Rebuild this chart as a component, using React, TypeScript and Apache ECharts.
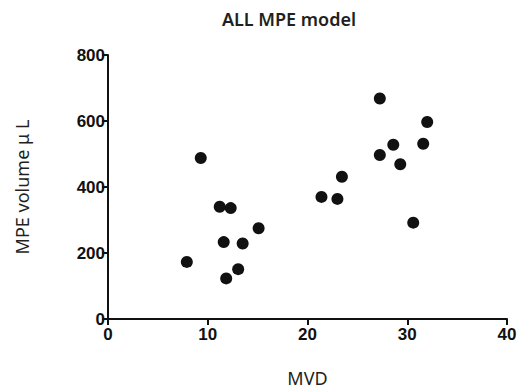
import React, { useEffect, useRef } from "react";
import * as echarts from "echarts";

const mvd = [9.3, 11.2, 12.3, 15.1, 11.6, 13.5, 7.9, 13.05, 11.85, 27.25, 32.0, 28.6, 31.6, 27.25, 29.3, 23.45, 21.4, 23.0, 30.6];
const volume = [488, 340, 336, 275, 233, 229, 173, 151, 123, 668, 597, 528, 531, 497, 469, 431, 370, 364, 292];
const titleText = "ALL MPE model";
const xName = "MVD";
const yName = "MPE volume μ L";

export default function App() {
  const ref = useRef<HTMLDivElement>(null);
  useEffect(() => {
    if (!ref.current) return;
    const chart = echarts.init(ref.current, undefined, { renderer: "svg" });
    const data = mvd.map((x, i) => [x, volume[i]]);
    const axisLabelStyle = {
      color: "#111",
      fontFamily: "Liberation Sans, Arial, sans-serif",
      fontWeight: "bold" as const,
      fontSize: 17,
    };
    chart.setOption({
      animation: false,
      backgroundColor: "#fff",
      title: {
        text: titleText,
        left: 284,
        top: 5,
        textAlign: "center",
        textStyle: { fontFamily: "Noto Sans, sans-serif", fontSize: 18, fontWeight: 600, color: "#231f20" },
      },
      grid: { left: 108, right: 18, top: 55, bottom: 72 },
      xAxis: {
        type: "value",
        min: 0,
        max: 40,
        interval: 10,
        name: xName,
        nameLocation: "middle",
        nameGap: 50,
        nameTextStyle: { fontFamily: "Noto Sans, sans-serif", fontSize: 18, color: "#231f20" },
        axisLine: { show: true, onZero: false, lineStyle: { color: "#111", width: 2 } },
        axisTick: { show: true, length: 6, lineStyle: { color: "#111", width: 2 } },
        axisLabel: { ...axisLabelStyle, margin: 7 },
        splitLine: { show: false },
      },
      yAxis: {
        type: "value",
        min: 0,
        max: 800,
        interval: 200,
        name: yName,
        nameLocation: "middle",
        nameRotate: 90,
        nameGap: 77,
        nameTextStyle: { fontFamily: "Noto Sans, sans-serif", fontSize: 18, color: "#231f20" },
        axisLine: { show: true, onZero: false, lineStyle: { color: "#111", width: 2 } },
        axisTick: { show: true, length: 6, lineStyle: { color: "#111", width: 2 } },
        axisLabel: { ...axisLabelStyle, margin: 3 },
        splitLine: { show: false },
      },
      series: [
        {
          type: "scatter",
          data,
          symbol: "circle",
          symbolSize: 12,
          itemStyle: { color: "#111", opacity: 1 },
        },
      ],
    });
    return () => chart.dispose();
  }, []);
  return <div ref={ref} style={{ width: 525, height: 392, position: "absolute", left: 0, top: 0 }} />;
}
